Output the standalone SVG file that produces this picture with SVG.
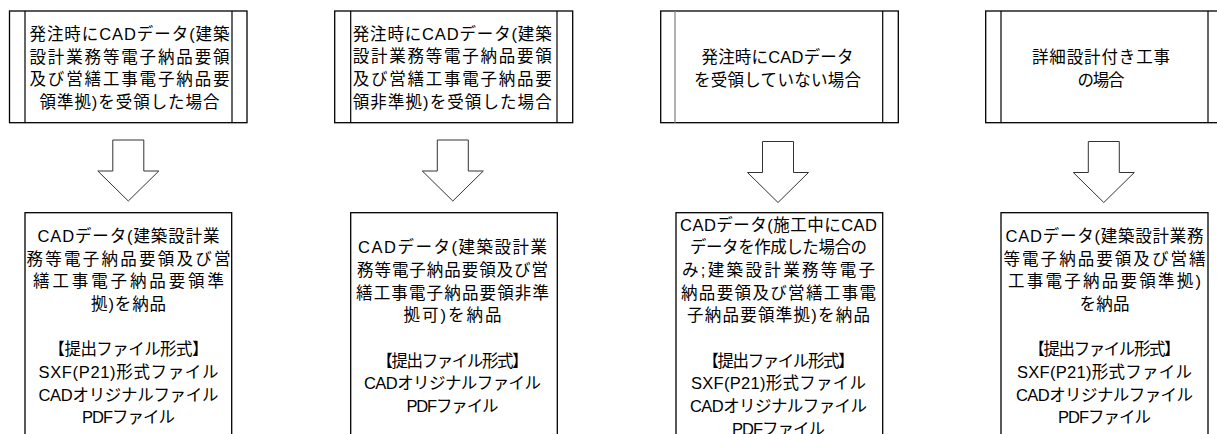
<svg xmlns="http://www.w3.org/2000/svg" width="1217" height="434" viewBox="0 0 1217 434">
<style>
.box{fill:#fff;stroke:#000;stroke-width:1.3}
.inner{stroke:#000;stroke-width:1.2}
.inner-g{stroke:#888;stroke-width:1.3}
.arrow{fill:#fff;stroke:#333;stroke-width:1}
text{font-family:"Liberation Sans","Noto Sans CJK JP",sans-serif;font-size:16.5px;fill:#000;text-anchor:middle}
</style>
<defs>
<path id="arr" class="arrow" d="M -15.5 0 H 15.5 V 31 H 30.5 L 0 61 L -30.5 31 H -15.5 Z"/>
</defs>
<rect width="1217" height="434" fill="#fff"/>
<g id="connectors">
<use href="#arr" x="128.3" y="140"/>
<use href="#arr" x="452.8" y="140"/>
<use href="#arr" x="778" y="141.5"/>
<use href="#arr" x="1103.8" y="141.5"/>
</g>
<g id="top1">
<rect class="box" x="9.5" y="11" width="237.5" height="111.7"/>
<line class="inner" x1="25" y1="11" x2="25" y2="122.7"/>
<line class="inner" x1="232" y1="11" x2="232" y2="122.7"/>
<text x="129.5" y="40" textLength="200" lengthAdjust="spacing">発注時にCADデータ(建築</text>
<text x="129.5" y="62.7" textLength="200" lengthAdjust="spacing">設計業務等電子納品要領</text>
<text x="129.5" y="85.3" textLength="200" lengthAdjust="spacing">及び営繕工事電子納品要</text>
<text x="129.5" y="108" textLength="180" lengthAdjust="spacing">領準拠)を受領した場合</text>
</g>
<g id="top2">
<rect class="box" x="334.7" y="11" width="238" height="111.7"/>
<line class="inner" x1="350.7" y1="11" x2="350.7" y2="122.7"/>
<line class="inner" x1="557" y1="11" x2="557" y2="122.7"/>
<text x="452.2" y="39.5" textLength="199" lengthAdjust="spacing">発注時にCADデータ(建築</text>
<text x="452.2" y="62.2" textLength="199" lengthAdjust="spacing">設計業務等電子納品要領</text>
<text x="452.2" y="84.8" textLength="199" lengthAdjust="spacing">及び営繕工事電子納品要</text>
<text x="452.2" y="107.5" textLength="199" lengthAdjust="spacing">領非準拠)を受領した場合</text>
</g>
<g id="top3">
<rect class="box" x="660.7" y="11" width="237.6" height="111.7"/>
<line class="inner-g" x1="675" y1="11" x2="675" y2="122.7"/>
<line class="inner" x1="882.7" y1="11" x2="882.7" y2="122.7"/>
<text x="777.5" y="63" textLength="152" lengthAdjust="spacing">発注時にCADデータ</text>
<text x="777.5" y="85.7" textLength="167" lengthAdjust="spacing">を受領していない場合</text>
</g>
<g id="top4">
<rect class="box" x="985.7" y="11" width="238.3" height="111.7"/>
<line class="inner" x1="1001" y1="11" x2="1001" y2="122.7"/>
<line class="inner" x1="1208" y1="11" x2="1208" y2="122.7"/>
<text x="1101" y="63" textLength="138" lengthAdjust="spacing">詳細設計付き工事</text>
<text x="1101" y="85.7" textLength="47" lengthAdjust="spacing">の場合</text>
</g>
<g id="bottom1">
<rect class="box" x="25" y="212.7" width="206.7" height="240"/>
<text x="128.5" y="242" textLength="182" lengthAdjust="spacing">CADデータ(建築設計業</text>
<text x="128.5" y="264.7" textLength="204" lengthAdjust="spacing">務等電子納品要領及び営</text>
<text x="128.5" y="287.3" textLength="191" lengthAdjust="spacing">繕工事電子納品要領準</text>
<text x="128.5" y="310" textLength="75" lengthAdjust="spacing">拠)を納品</text>
<text x="128.5" y="355.3" textLength="160" lengthAdjust="spacing">【提出ファイル形式】</text>
<text x="128.5" y="378" textLength="180" lengthAdjust="spacing">SXF(P21)形式ファイル</text>
<text x="128.5" y="400.7" textLength="180" lengthAdjust="spacing">CADオリジナルファイル</text>
<text x="128.5" y="423.3" textLength="93" lengthAdjust="spacing">PDFファイル</text>
</g>
<g id="bottom2">
<rect class="box" x="350.7" y="212.7" width="206.6" height="240"/>
<text x="452.5" y="253.3" textLength="189" lengthAdjust="spacing">CADデータ(建築設計業</text>
<text x="452.5" y="276" textLength="191" lengthAdjust="spacing">務等電子納品要領及び営</text>
<text x="452.5" y="298.7" textLength="193" lengthAdjust="spacing">繕工事電子納品要領非準</text>
<text x="452.5" y="321.3" textLength="98" lengthAdjust="spacing">拠可)を納品</text>
<text x="452.5" y="366.7" textLength="152" lengthAdjust="spacing">【提出ファイル形式】</text>
<text x="452.5" y="389.3" textLength="177" lengthAdjust="spacing">CADオリジナルファイル</text>
<text x="452.5" y="412" textLength="92" lengthAdjust="spacing">PDFファイル</text>
</g>
<g id="bottom3">
<rect class="box" x="676" y="212.7" width="206.7" height="240"/>
<text x="778.5" y="230.7" textLength="197" lengthAdjust="spacing">CADデータ(施工中にCAD</text>
<text x="778.5" y="253.3" textLength="177" lengthAdjust="spacing">データを作成した場合の</text>
<text x="778.5" y="276" textLength="193" lengthAdjust="spacing">み;建築設計業務等電子</text>
<text x="778.5" y="298.7" textLength="195" lengthAdjust="spacing">納品要領及び営繕工事電</text>
<text x="778.5" y="321.3" textLength="183" lengthAdjust="spacing">子納品要領準拠)を納品</text>
<text x="778.5" y="366.7" textLength="152" lengthAdjust="spacing">【提出ファイル形式】</text>
<text x="778.5" y="389.3" textLength="175" lengthAdjust="spacing">SXF(P21)形式ファイル</text>
<text x="778.5" y="412" textLength="177" lengthAdjust="spacing">CADオリジナルファイル</text>
<text x="778.5" y="434.7" textLength="93" lengthAdjust="spacing">PDFファイル</text>
</g>
<g id="bottom4">
<rect class="box" x="1001" y="212.7" width="207" height="240"/>
<text x="1104.5" y="242" textLength="198" lengthAdjust="spacing">CADデータ(建築設計業務</text>
<text x="1104.5" y="264.7" textLength="202" lengthAdjust="spacing">等電子納品要領及び営繕</text>
<text x="1104.5" y="287.3" textLength="193" lengthAdjust="spacing">工事電子納品要領準拠)</text>
<text x="1104.5" y="310" textLength="50" lengthAdjust="spacing">を納品</text>
<text x="1104.5" y="355.3" textLength="152" lengthAdjust="spacing">【提出ファイル形式】</text>
<text x="1104.5" y="378" textLength="175" lengthAdjust="spacing">SXF(P21)形式ファイル</text>
<text x="1104.5" y="400.7" textLength="177" lengthAdjust="spacing">CADオリジナルファイル</text>
<text x="1104.5" y="423.3" textLength="93" lengthAdjust="spacing">PDFファイル</text>
</g>
</svg>
